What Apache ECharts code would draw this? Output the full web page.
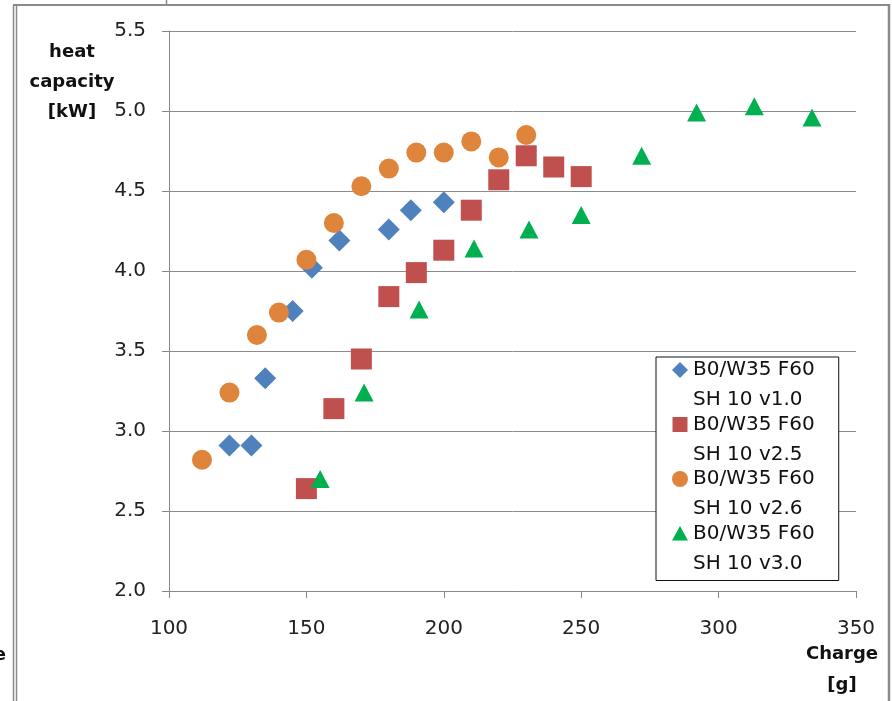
<!DOCTYPE html>
<html>
<head>
<meta charset="utf-8">
<script src="https://cdn.jsdelivr.net/npm/echarts@6/dist/echarts.min.js"></script>
<style>
html,body{margin:0;padding:0;background:#fff;}
#c{width:892px;height:701px;}
</style>
</head>
<body>
<div id="c"></div>
<script>
// ---- data ----
const seriesNames = ['B0/W35 F60\nSH 10 v1.0', 'B0/W35 F60\nSH 10 v2.5', 'B0/W35 F60\nSH 10 v2.6', 'B0/W35 F60\nSH 10 v3.0'];
const chargeV10 = [122, 130, 135, 145, 152, 162, 180, 188, 200];
const capV10 = [2.91, 2.91, 3.33, 3.75, 4.02, 4.19, 4.26, 4.38, 4.43];
const chargeV25 = [150, 160, 170, 180, 190, 200, 210, 220, 230, 240, 250];
const capV25 = [2.64, 3.14, 3.45, 3.84, 3.99, 4.13, 4.38, 4.57, 4.72, 4.65, 4.59];
const chargeV26 = [112, 122, 132, 140, 150, 160, 170, 180, 190, 200, 210, 220, 230];
const capV26 = [2.82, 3.24, 3.60, 3.74, 4.07, 4.30, 4.53, 4.64, 4.74, 4.74, 4.81, 4.71, 4.85];
const chargeV30 = [155, 171, 191, 211, 231, 250, 272, 292, 313, 334];
const capV30 = [2.70, 3.24, 3.76, 4.14, 4.26, 4.35, 4.72, 4.99, 5.03, 4.96];
const yTicks = [2.0, 2.5, 3.0, 3.5, 4.0, 4.5, 5.0, 5.5];
const xTicks = [100, 150, 200, 250, 300, 350];
const yTitle = 'heat\ncapacity\n[kW]';
const xTitle = 'Charge\n[g]';

const colors = ['#4F81BD', '#C0504D', '#DE843B', '#00B050'];
const symbols = ['diamond', 'rect', 'circle', 'triangle'];
const symbolSizes = [22, 21, 20, [19, 18]];
const pad = ' M0,0 L0,0 M16,60 L16,60';
const legendIcons = [
  'path://M8,5 L16,13 L8,21 L0,13 Z' + pad,
  'path://M0.5,5.5 L15.5,5.5 L15.5,20.5 L0.5,20.5 Z' + pad,
  'path://M0,13 A8,8 0 1,1 16,13 A8,8 0 1,1 0,13 Z' + pad,
  'path://M8,5.5 L16,20 L0,20 Z' + pad
];

function zip(xs, ys) { return xs.map((x, i) => [x, ys[i]]); }
const allData = [zip(chargeV10, capV10), zip(chargeV25, capV25), zip(chargeV26, capV26), zip(chargeV30, capV30)];

const FONT = 'DejaVu Sans';
const chart = echarts.init(document.getElementById('c'), null, {renderer: 'canvas'});

const option = {
  animation: false,
  backgroundColor: '#ffffff',
  grid: {left: 169, right: 36, top: 31, bottom: 110, containLabel: false},
  xAxis: {
    type: 'value', min: xTicks[0], max: xTicks[xTicks.length - 1], interval: 50,
    axisLine: {show: true, lineStyle: {color: '#888888', width: 1}},
    axisTick: {show: true, length: 7, inside: false, lineStyle: {color: '#888888'}},
    axisLabel: {margin: 28, color: '#222', fontFamily: FONT, fontSize: 20},
    splitLine: {show: false}
  },
  yAxis: {
    type: 'value', min: yTicks[0], max: yTicks[yTicks.length - 1], interval: 0.5,
    axisLine: {show: true, onZero: false, lineStyle: {color: '#888888', width: 1}},
    axisTick: {show: true, length: 7, inside: false, lineStyle: {color: '#888888'}},
    axisLabel: {margin: 23, color: '#222', fontFamily: FONT, fontSize: 20,
      formatter: v => v.toFixed(1)},
    splitLine: {show: true, lineStyle: {color: '#8c8c8c', width: 1}}
  },
  legend: {
    orient: 'vertical',
    left: 656, top: 357,
    padding: [0, 24, 0, 16],
    itemWidth: 16, itemHeight: 60, itemGap: -5.5,
    backgroundColor: '#ffffff',
    borderColor: '#111', borderWidth: 1, borderRadius: 0,
    itemStyle: {borderWidth: 0},
    data: seriesNames.map((n, i) => ({name: n, icon: legendIcons[i]})),
    formatter: function (name) {
      const parts = name.split('\n');
      return '{a|' + parts[0] + '}\n{b|' + parts[1] + '}';
    },
    textStyle: {
      color: '#111', fontFamily: FONT, fontSize: 20,
      rich: {
        a: {lineHeight: 26, fontFamily: FONT, fontSize: 20, color: '#111'},
        b: {lineHeight: 34, fontFamily: FONT, fontSize: 20, color: '#111'}
      }
    }
  },
  graphic: [
    {type: 'line', shape: {x1: 13, y1: 5, x2: 890, y2: 5}, style: {stroke: '#8a8a8a', lineWidth: 2}, silent: true},
    {type: 'line', shape: {x1: 166.5, y1: 0, x2: 166.5, y2: 5}, style: {stroke: '#8a8a8a', lineWidth: 1.5}, silent: true},
    {type: 'line', shape: {x1: 13.5, y1: 5, x2: 13.5, y2: 701}, style: {stroke: '#8a8a8a', lineWidth: 1.5}, silent: true},
    {type: 'line', shape: {x1: 16.5, y1: 5, x2: 16.5, y2: 701}, style: {stroke: '#8a8a8a', lineWidth: 1.5}, silent: true},
    {type: 'line', shape: {x1: 889, y1: 4, x2: 889, y2: 701}, style: {stroke: '#8a8a8a', lineWidth: 2.5}, silent: true},
    {type: 'text', x: 72, y: 37, style: {text: yTitle, align: 'center', verticalAlign: 'top',
      fontFamily: FONT, fontWeight: 'bold', fontSize: 18, lineHeight: 30, fill: '#111'}},
    {type: 'text', x: 842, y: 639, style: {text: xTitle, align: 'center', verticalAlign: 'top',
      fontFamily: FONT, fontWeight: 'bold', fontSize: 18, lineHeight: 31, fill: '#111'}},
    {type: 'text', x: 6, y: 655, style: {text: 'e', align: 'right', verticalAlign: 'middle',
      fontFamily: FONT, fontWeight: 'bold', fontSize: 18, fill: '#111'}}
  ],
  series: allData.map((d, i) => ({
    name: seriesNames[i],
    type: 'scatter',
    data: d,
    symbol: symbols[i],
    symbolSize: symbolSizes[i],
    itemStyle: {color: colors[i], opacity: 1},
    z: 2 + i
  }))
};
chart.setOption(option);
</script>
</body>
</html>
